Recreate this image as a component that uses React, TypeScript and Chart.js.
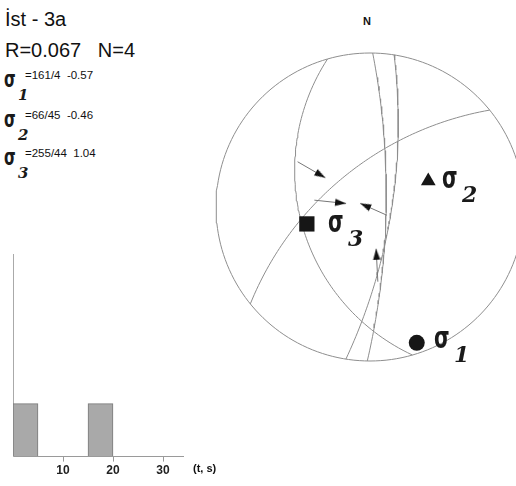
import React, { useEffect, useRef } from "react";
import { Chart, registerables } from "chart.js";
Chart.register(...registerables);

// ---------- data ----------
const siteName = "İst - 3a";
const ratioR = "0.067";
const countN = "4";
// principal stress axes: trend / plunge, shape value
const sigmaNames = ["1", "2", "3"];
const sigmaTrends = [161, 66, 255];
const sigmaPlunges = [4, 45, 44];
const sigmaValues = ["-0.57", "-0.46", "1.04"];
// fault planes (dip direction / dip)
const planeDipDirs = [254, 91, 99, 321];
const planeDips = [41, 78, 74, 61];
// slip arrows: striae at tail (trend / plunge), arrow azimuth, arrow length (net radius units)
const slipTrends = [302, 277, 116, 174];
const slipPlunges = [32, 50, 76, 38];
const arrowAzimuths = [120, 96, 294, 357];
const arrowLengths = [0.208, 0.207, 0.19, 0.214];
// histogram
const binCenters = [2.5, 7.5, 12.5, 17.5, 22.5, 27.5, 32.5];
const binCounts = [2, 0, 0, 2, 0, 0, 0];
const histTicks = [10, 20, 30];
const histUnit = "(t, s)";

// ---------- helpers ----------
const D2R = Math.PI / 180;
function proj(trend: number, plunge: number) {
  const r = Math.tan(((90 - plunge) / 2) * D2R); // Wulff net, lower hemisphere
  return { x: r * Math.sin(trend * D2R), y: r * Math.cos(trend * D2R) };
}
function greatCircle(dd: number, dip: number) {
  const s = (dd - 90) * D2R, d = dd * D2R, dp = dip * D2R;
  const pts: { x: number; y: number }[] = [];
  for (let b = 0; b <= 180; b += 2) {
    const cb = Math.cos(b * D2R), sb = Math.sin(b * D2R);
    const e = cb * Math.sin(s) + sb * Math.cos(dp) * Math.sin(d);
    const n = cb * Math.cos(s) + sb * Math.cos(dp) * Math.cos(d);
    const z = sb * Math.sin(dp);
    pts.push(proj(Math.atan2(e, n) / D2R, Math.asin(Math.min(1, z)) / D2R));
  }
  return pts;
}
function primitive() {
  const pts: { x: number; y: number }[] = [];
  for (let a = 0; a <= 360; a += 2) pts.push(proj(a, 0));
  return pts;
}
function arrowHead() {
  const c = document.createElement("canvas");
  c.width = 8; c.height = 24;
  const g = c.getContext("2d")!;
  g.fillStyle = "#111";
  g.beginPath();
  g.moveTo(4, 12); g.lineTo(7.6, 23); g.lineTo(0.4, 23); g.closePath();
  g.fill();
  return c;
}

const LINE = "#8e8e8e";
const NET_R = 154;
const NET_L = 200, NET_T = 40, NET_W = 316, NET_H = 336, CX = 370, CY = 207;

function Stereonet() {
  const ref = useRef<HTMLCanvasElement>(null);
  useEffect(() => {
    const head = arrowHead();
    const axes = sigmaTrends.map((t, i) => proj(t, sigmaPlunges[i]));
    const datasets: any[] = [
      {
        data: axes,
        showLine: false,
        pointStyle: ["circle", "triangle", "rect"],
        pointRadius: [8, 8.5, 10.8],
        pointBackgroundColor: "#161616",
        pointBorderWidth: 0,
      },
    ];
    slipTrends.forEach((t, i) => {
      const tail = proj(t, slipPlunges[i]);
      const tip = {
        x: tail.x + arrowLengths[i] * Math.sin(arrowAzimuths[i] * D2R),
        y: tail.y + arrowLengths[i] * Math.cos(arrowAzimuths[i] * D2R),
      };
      datasets.push({
        data: [tail, tip],
        showLine: true,
        borderColor: "#777",
        borderWidth: 1,
        pointStyle: head,
        pointRadius: [0, 5],
        pointRotation: [0, arrowAzimuths[i]],
      });
    });
    planeDipDirs.forEach((dd, i) => {
      datasets.push({
        data: greatCircle(dd, planeDips[i]),
        showLine: true, borderColor: LINE, borderWidth: 1, pointRadius: 0,
      });
    });
    datasets.push({ data: primitive(), showLine: true, borderColor: LINE, borderWidth: 1, pointRadius: 0 });

    const chart = new Chart(ref.current!, {
      type: "scatter",
      data: { datasets },
      options: {
        animation: false,
        responsive: false,
        layout: { padding: 0, autoPadding: false },
        plugins: { legend: { display: false }, tooltip: { enabled: false } },
        scales: {
          x: { display: false, min: (NET_L - CX) / NET_R, max: (NET_L + NET_W - CX) / NET_R },
          y: { display: false, min: (CY - NET_T - NET_H) / NET_R, max: (CY - NET_T) / NET_R },
        },
      },
    });
    return () => chart.destroy();
  }, []);
  return (
    <canvas ref={ref} width={NET_W} height={NET_H}
      style={{ position: "absolute", left: NET_L, top: NET_T, width: NET_W, height: NET_H }} />
  );
}

function Histogram() {
  const ref = useRef<HTMLCanvasElement>(null);
  useEffect(() => {
    const chart = new Chart(ref.current!, {
      type: "bar",
      data: {
        datasets: [{
          data: binCenters.map((c, i) => ({ x: c, y: binCounts[i] })),
          backgroundColor: "#a9a9a9",
          borderColor: "#7a7a7a",
          borderWidth: 1,
          barPercentage: 1,
          categoryPercentage: 1,
        }],
      },
      options: {
        animation: false,
        responsive: false,
        layout: { padding: { left: 13, right: 17, top: 14, bottom: 6 } },
        plugins: { legend: { display: false }, tooltip: { enabled: false } },
        scales: {
          x: {
            type: "linear", min: 0, max: 34, offset: false,
            afterBuildTicks: (s: any) => { s.ticks = histTicks.map((v) => ({ value: v })); },
            ticks: { color: "#222", font: { family: "Liberation Sans, Arial", size: 12, weight: "bold" }, padding: 2, maxRotation: 0 },
            grid: { offset: false, drawOnChartArea: false, drawTicks: true, tickLength: 5, color: "#9a9a9a" },
            border: { color: "#9a9a9a" },
          },
          y: {
            min: 0, max: 7.66,
            ticks: { display: false },
            grid: { drawOnChartArea: false, drawTicks: false, tickLength: 0 },
            border: { color: "#aaaaaa" },
          },
        },
      },
    });
    return () => chart.destroy();
  }, []);
  return (
    <canvas ref={ref} width={200} height={246}
      style={{ position: "absolute", left: 0, top: 240, width: 200, height: 246 }} />
  );
}

const SANS = "'Liberation Sans', Arial, sans-serif";

function Txt(p: { x: number; base: number; fs: number; children: any; bold?: boolean; family?: string; style?: any }) {
  return (
    <div style={{
      position: "absolute", left: p.x, top: p.base - 0.846 * p.fs, fontSize: p.fs, lineHeight: p.fs + "px",
      fontFamily: p.family || SANS, fontWeight: p.bold ? "bold" : "normal", whiteSpace: "pre", color: "#111", ...p.style,
    }}>{p.children}</div>
  );
}

function Sigma(p: { x: number; base: number; fs: number; sub: string; subFs: number; subDx: number; subDy: number }) {
  return (
    <>
      <div style={{
        position: "absolute", left: p.x, top: p.base - 0.846 * p.fs, fontSize: p.fs, lineHeight: p.fs + "px",
        fontFamily: "'DejaVu Sans', sans-serif", fontWeight: "bold", color: "#1a1a1a", whiteSpace: "pre",
        transform: "scaleY(1.5)", transformOrigin: `0 ${0.846 * p.fs}px`,
      }}>σ</div>
      <div style={{
        position: "absolute", left: p.x + p.subDx, top: p.base + p.subDy - 0.846 * p.subFs, fontSize: p.subFs,
        lineHeight: p.subFs + "px", fontFamily: "'DejaVu Serif', serif", fontStyle: "italic", fontWeight: "bold",
        color: "#1a1a1a", whiteSpace: "pre",
      }}>{p.sub}</div>
    </>
  );
}

export default function App() {
  const rowBase = [80, 120, 158];
  const netLabels = [
    { x: 434, base: 348 }, // sigma 1
    { x: 442, base: 188 }, // sigma 2
    { x: 328, base: 232 }, // sigma 3
  ];
  return (
    <div style={{ position: "fixed", left: 0, top: 0, width: 516, height: 486, background: "#fff", overflow: "hidden" }}>
      <Txt x={5} base={26} fs={20}>{siteName}</Txt>
      <Txt x={5} base={57} fs={20}>{`R=${ratioR}   N=${countN}`}</Txt>
      {sigmaNames.map((n, i) => (
        <React.Fragment key={n}>
          <Sigma x={4} base={rowBase[i] + 8} fs={15} sub={n} subFs={15} subDx={14} subDy={13} />
          <Txt x={25} base={rowBase[i]} fs={11.5}>{`=${sigmaTrends[i]}/${sigmaPlunges[i]}  ${sigmaValues[i]}`}</Txt>
        </React.Fragment>
      ))}
      <Histogram />
      <Txt x={193} base={472} fs={11} bold>{histUnit}</Txt>
      <Stereonet />
      <Txt x={363} base={25} fs={11} bold>N</Txt>
      {sigmaNames.map((n, i) => (
        <Sigma key={"n" + n} x={netLabels[i].x} base={netLabels[i].base} fs={20} sub={n} subFs={22} subDx={20} subDy={14} />
      ))}
    </div>
  );
}
